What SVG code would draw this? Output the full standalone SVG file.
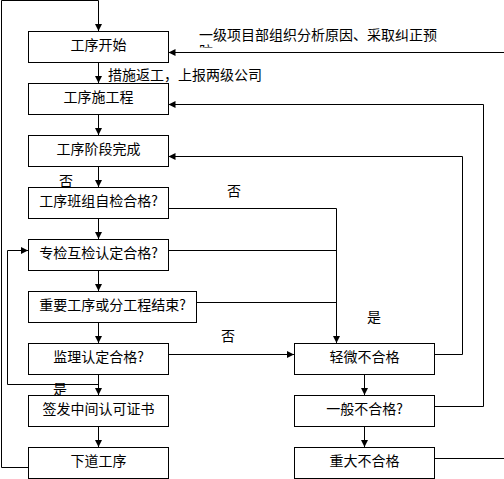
<svg xmlns="http://www.w3.org/2000/svg" width="504" height="479" viewBox="0 0 504 479">
<style>
.box{fill:#fff;stroke:#000;stroke-width:1}
.t{font-family:"Noto Sans CJK SC","Noto Sans CJK TC",sans-serif;font-size:14px;fill:#000}
.c{text-anchor:middle}
.ln{fill:none;stroke:#000;stroke-width:1}
.ar{marker-end:url(#ah)}
</style>
<defs>
<marker id="ah" markerUnits="userSpaceOnUse" markerWidth="8" markerHeight="8" refX="7" refY="3.5" orient="auto">
<path d="M0,0 L7,3.5 L0,7 z" fill="#000"/>
</marker>
<clipPath id="clipFang"><rect x="195" y="40" width="30" height="7.5"/></clipPath>
</defs>
<rect width="504" height="479" fill="#fff"/>
<g id="connectors">
<path class="ln ar" d="M28.5,467.5 H1.5 V0.5 H98.5 V31"/>
<path class="ln ar" d="M98.5,62 V83"/>
<path class="ln ar" d="M98.5,114 V135"/>
<path class="ln ar" d="M98.5,166 V187"/>
<path class="ln ar" d="M98.5,218 V239"/>
<path class="ln ar" d="M98.5,270 V291"/>
<path class="ln ar" d="M98.5,322 V343"/>
<path class="ln ar" d="M98.5,374 V395"/>
<path class="ln ar" d="M98.5,426 V447"/>
<path class="ln ar" d="M364.5,374 V395"/>
<path class="ln ar" d="M364.5,426 V447"/>
<path class="ln ar" d="M504,52.5 H168.5"/>
<path class="ln" d="M434.5,458.5 H504"/>
<path class="ln ar" d="M434.5,406.5 H483.5 V104.5 H168.5"/>
<path class="ln ar" d="M434.5,354.5 H462.5 V156.5 H168.5"/>
<path class="ln ar" d="M168.5,208.5 H336.5 V343"/>
<path class="ln" d="M168.5,250.5 H336.5"/>
<path class="ln" d="M196.5,302.5 H336.5"/>
<path class="ln ar" d="M168.5,354.5 H294"/>
<path class="ln ar" d="M98.5,384.5 H7.5 V250.5 H28"/>
</g>
<g id="n1"><rect class="box" x="28.5" y="31.5" width="140" height="31"/><text class="t c" x="98.5" y="50">工序开始</text></g>
<g id="n2"><rect class="box" x="28.5" y="83.5" width="140" height="31"/><text class="t c" x="98.5" y="102">工序施工程</text></g>
<g id="n3"><rect class="box" x="28.5" y="135.5" width="140" height="31"/><text class="t c" x="98.5" y="154">工序阶段完成</text></g>
<g id="n4"><rect class="box" x="28.5" y="187.5" width="140" height="31"/><text class="t c" x="98.5" y="206">工序班组自检合格?</text></g>
<g id="n5"><rect class="box" x="28.5" y="239.5" width="140" height="31"/><text class="t c" x="98.5" y="258">专检互检认定合格?</text></g>
<g id="n6"><rect class="box" x="28.5" y="291.5" width="168" height="31"/><text class="t c" x="112.5" y="310">重要工序或分工程结束?</text></g>
<g id="n7"><rect class="box" x="28.5" y="343.5" width="140" height="31"/><text class="t c" x="98.5" y="362">监理认定合格?</text></g>
<g id="n8"><rect class="box" x="28.5" y="395.5" width="140" height="31"/><text class="t c" x="98.5" y="414">签发中间认可证书</text></g>
<g id="n9"><rect class="box" x="28.5" y="447.5" width="140" height="31"/><text class="t c" x="98.5" y="466">下道工序</text></g>
<g id="r1"><rect class="box" x="294.5" y="343.5" width="140" height="31"/><text class="t c" x="364.5" y="362">轻微不合格</text></g>
<g id="r2"><rect class="box" x="294.5" y="395.5" width="140" height="31"/><text class="t c" x="364.5" y="414">一般不合格?</text></g>
<g id="r3"><rect class="box" x="294.5" y="447.5" width="140" height="31"/><text class="t c" x="364.5" y="466">重大不合格</text></g>
<g id="labels">
<text class="t" x="199" y="40">一级项目部组织分析原因、采取纠正预</text>
<text class="t" x="199" y="56" clip-path="url(#clipFang)">防</text>
<text class="t" x="108" y="80">措施返工，上报两级公司</text>
<text class="t" x="59" y="186">否</text>
<text class="t" x="227" y="196">否</text>
<text class="t" x="367" y="322">是</text>
<text class="t" x="221" y="341">否</text>
<text class="t" x="53" y="394">是</text>
</g>
</svg>
